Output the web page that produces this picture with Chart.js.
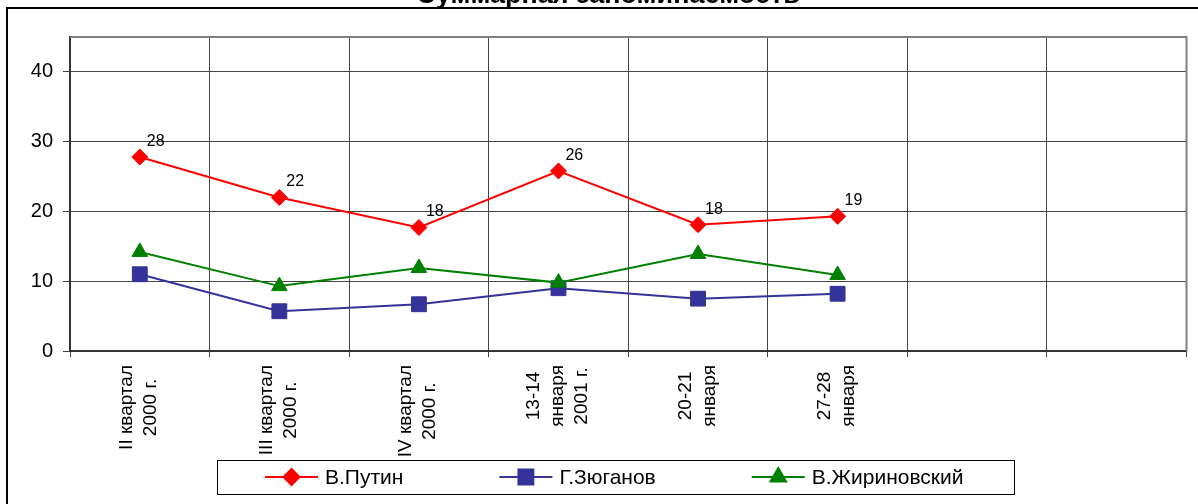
<!DOCTYPE html>
<html>
<head>
<meta charset="utf-8">
<script src="https://cdn.jsdelivr.net/npm/chart.js@4/dist/chart.umd.min.js"></script>
<style>
  html, body { margin: 0; padding: 0; background: #fff; overflow: hidden; }
</style>
</head>
<body>
<canvas id="chart" width="1198" height="504"></canvas>
<script>
// chart data
const chartTitle = "Суммарная запоминаемость";
const categories = [
  ["II квартал", "2000 г."],
  ["III квартал", "2000 г."],
  ["IV квартал", "2000 г."],
  ["13-14", "января", "2001 г."],
  ["20-21", "января"],
  ["27-28", "января"],
  "",
  "",
];
const seriesNames = ["В.Путин", "Г.Зюганов", "В.Жириновский"];
const putin = [27.8, 22.0, 17.7, 25.8, 18.1, 19.3];
const putinLabels = [28, 22, 18, 26, 18, 19];
const zyuganov = [11.0, 5.7, 6.7, 9.0, 7.5, 8.2];
const zhirinovsky = [14.2, 9.3, 11.9, 9.8, 13.9, 10.9];
const yTicks = [0, 10, 20, 30, 40];

const FONT = "'Liberation Sans', Arial, sans-serif";

// frame, title, plot border
const framePlugin = {
  id: "frame",
  beforeDraw(chart) {
    const ctx = chart.ctx;
    ctx.save();
    ctx.fillStyle = "#fff";
    ctx.fillRect(0, 0, chart.width, chart.height);
    ctx.strokeStyle = "#000";
    ctx.lineWidth = 2;
    ctx.strokeRect(7, 8, chart.width + 20, chart.height + 20);
    ctx.restore();
  },
  afterDraw(chart) {
    const ctx = chart.ctx;
    const a = chart.chartArea;
    ctx.save();
    // plot area border (top / right)
    ctx.strokeStyle = "#808080";
    ctx.lineWidth = 2;
    ctx.beginPath();
    ctx.moveTo(a.left, a.top);
    ctx.lineTo(a.right, a.top);
    ctx.lineTo(a.right, a.bottom);
    ctx.stroke();
    // title, cut off at top
    ctx.fillStyle = "#000";
    ctx.font = "bold 27px " + FONT;
    ctx.textAlign = "center";
    ctx.textBaseline = "alphabetic";
    ctx.fillText(chartTitle, 608, 3);
    ctx.restore();
  },
};

// x labels, rotated, lines centred to each other
const xLabelPlugin = {
  id: "xLabels",
  afterDraw(chart) {
    const ctx = chart.ctx;
    const xs = chart.scales.x;
    ctx.save();
    ctx.font = "19px " + FONT;
    ctx.fillStyle = "#000";
    ctx.textAlign = "center";
    ctx.textBaseline = "alphabetic";
    categories.forEach((lab, i) => {
      const lines = Array.isArray(lab) ? lab : [lab];
      if (!lines.join("")) return;
      const maxW = Math.max(...lines.map((l) => ctx.measureText(l).width));
      const x = xs.getPixelForValue(i);
      ctx.save();
      ctx.translate(x, xs.top + 14 + maxW / 2);
      ctx.rotate(-Math.PI / 2);
      lines.forEach((l, k) => {
        ctx.fillText(l, 0, (k - (lines.length - 1) / 2) * 24 + 4.5);
      });
      ctx.restore();
    });
    ctx.restore();
  },
};

// value labels for Putin's line
const valueLabelPlugin = {
  id: "valueLabels",
  afterDatasetsDraw(chart) {
    const ctx = chart.ctx;
    const meta = chart.getDatasetMeta(0);
    ctx.save();
    ctx.font = "16px " + FONT;
    ctx.fillStyle = "#000";
    ctx.textAlign = "left";
    ctx.textBaseline = "alphabetic";
    meta.data.forEach((pt, i) => {
      ctx.fillText(String(putinLabels[i]), pt.x + 7, pt.y - 11);
    });
    ctx.restore();
  },
};

// legend box at the bottom
const legendPlugin = {
  id: "boxLegend",
  afterDraw(chart) {
    const ctx = chart.ctx;
    ctx.save();
    ctx.strokeStyle = "#000";
    ctx.lineWidth = 1;
    ctx.strokeRect(217.5, 460.5, 797, 34);
    ctx.font = "21px " + FONT;
    ctx.textBaseline = "middle";
    ctx.textAlign = "left";
    let x = 265;
    const y = 477;
    chart.data.datasets.forEach((ds) => {
      ctx.strokeStyle = ds.borderColor;
      ctx.lineWidth = 2;
      ctx.beginPath();
      ctx.moveTo(x, y);
      ctx.lineTo(x + 53, y);
      ctx.stroke();
      ctx.fillStyle = ds.borderColor;
      Chart.helpers.drawPoint(ctx, {
        pointStyle: ds.pointStyle,
        radius: ds.pointRadius,
        borderWidth: 1,
        rotation: 0,
      }, x + 26.5, y);
      ctx.fillStyle = "#000";
      ctx.fillText(ds.label, x + 60, y + 1);
      x += 60 + ctx.measureText(ds.label).width + 96;
    });
    ctx.restore();
  },
};

const ctx = document.getElementById("chart").getContext("2d");
new Chart(ctx, {
  type: "line",
  data: {
    labels: categories,
    datasets: [
      {
        label: seriesNames[0],
        data: putin,
        borderColor: "#FF0000",
        backgroundColor: "#FF0000",
        borderWidth: 2,
        pointStyle: "rectRot",
        pointRadius: 8,
        pointBorderWidth: 1,
        order: 0,
      },
      {
        label: seriesNames[1],
        data: zyuganov,
        borderColor: "#333399",
        backgroundColor: "#333399",
        borderWidth: 2,
        pointStyle: "rect",
        pointRadius: 10.5,
        pointBorderWidth: 1,
        order: 2,
      },
      {
        label: seriesNames[2],
        data: zhirinovsky,
        borderColor: "#008000",
        backgroundColor: "#008000",
        borderWidth: 2,
        pointStyle: "triangle",
        pointRadius: 9,
        pointBorderWidth: 1,
        order: 1,
      },
    ],
  },
  options: {
    responsive: false,
    animation: false,
    devicePixelRatio: 1,
    layout: { padding: { left: 0, top: 37, right: 11, bottom: 0 } },
    plugins: {
      legend: { display: false },
      title: { display: false },
      tooltip: { enabled: false },
    },
    elements: { line: { tension: 0 } },
    scales: {
      x: {
        type: "category",
        offset: true,
        grid: { offset: true, color: "#444", lineWidth: 1, tickLength: 6, drawTicks: true },
        border: { color: "#333", width: 2 },
        ticks: { display: false },
        afterFit(s) { s.height = 153; },
      },
      y: {
        min: 0,
        max: 45,
        afterBuildTicks(s) { s.ticks = yTicks.map((v) => ({ value: v })); },
        grid: { color: "#444", lineWidth: 1, tickLength: 7 },
        border: { color: "#333", width: 2 },
        ticks: {
          color: "#000",
          padding: 10,
          font: { family: FONT, size: 20 },
        },
        afterFit(s) { s.width = 70; },
      },
    },
  },
  plugins: [framePlugin, xLabelPlugin, valueLabelPlugin, legendPlugin],
});
</script>
</body>
</html>
